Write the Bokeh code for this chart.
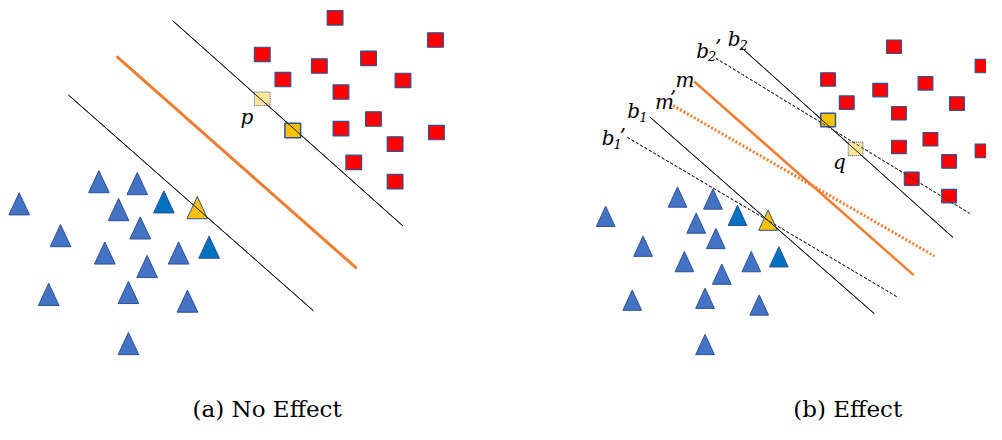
from bokeh.plotting import figure
from bokeh.models import Range1d, ColumnDataSource
from bokeh.core.properties import value
from bokeh.embed import file_html
from bokeh.resources import INLINE

# ---------------- data (reference-image coordinates) ----------------
# Panel (a) "No Effect"
a_red_x = [340, 442, 266, 374, 324, 287, 409, 346, 379, 346, 443, 401, 359, 401]
a_red_y = [18, 41, 56, 60, 68, 82, 83, 95, 123, 133, 137, 149, 168, 188]
a_sv_sq_x = [297]
a_sv_sq_y = [135]
a_ghost_x = [266]
a_ghost_y = [102]
a_tri_x = [19, 100, 139, 120, 166, 200, 61, 142, 106, 181, 212, 149, 49, 130, 190, 130]
a_tri_y = [211, 188, 190, 217, 209, 215, 244, 236, 262, 262, 256, 276, 305, 303, 312, 356]
a_tri_kind = ["b", "b", "b", "b", "d", "y", "b", "b", "b", "b", "d", "b", "b", "b", "b", "b"]
a_solid_x0 = [175, 69]
a_solid_y0 = [21, 98]
a_solid_x1 = [409, 318]
a_solid_y1 = [234, 322]
a_orange_x0 = [118]
a_orange_y0 = [58]
a_orange_x1 = [362]
a_orange_y1 = [278]

# Panel (b) "Effect"
b_red_x = [908, 998, 841, 894, 940, 860, 972, 913, 945, 913, 998, 964, 926, 964]
b_red_y = [48, 68, 82, 93, 86, 106, 107, 117, 144, 152, 156, 167, 185, 203]
b_sv_sq_x = [841]
b_sv_sq_y = [124]
b_ghost_x = [869]
b_ghost_y = [154]
b_tri_x = [615, 688, 724, 707, 749, 780, 653, 727, 695, 763, 791, 733, 642, 716, 771, 716]
b_tri_y = [224, 204, 206, 231, 223, 228, 255, 247, 271, 271, 266, 284, 311, 309, 316, 357]
b_tri_kind = ["b", "b", "b", "b", "d", "y", "b", "b", "b", "b", "d", "b", "b", "b", "b", "b"]
b_solid_x0 = [753, 660]
b_solid_y0 = [49, 121]
b_solid_x1 = [968, 888]
b_solid_y1 = [246, 325]
b_dash_x0 = [727, 637]
b_dash_y0 = [60, 142]
b_dash_x1 = [985, 912]
b_dash_y1 = [221, 308]
b_orange_x0 = [705]
b_orange_y0 = [84]
b_orange_x1 = [928]
b_orange_y1 = [285]
b_dot_x0 = [680]
b_dot_y0 = [107]
b_dot_x1 = [949]
b_dot_y1 = [265]

# Labels
main_txt = ["p", "q", "m", "m", "b", "b", "b", "b"]
main_x = [244, 846, 686, 665, 637, 611, 707, 739]
main_y = [121, 168, 83, 105, 115, 143, 52, 40]
sub_txt = ["1", "1", "2", "2"]
sub_x = [649, 623, 719, 751]
sub_y = [121, 149, 58, 46]
prime_txt = ["\u2019", "\u2019", "\u2019"]
prime_x = [680, 629, 726]
prime_y = [101, 141, 48]

captions = ["(a) No Effect", "(b) Effect"]
caption_x = [271, 861]
caption_y = [424, 424]

# ---------------- styles ----------------
BLUE = "#4472C4"
DARK = "#0070C0"
YELLOW = "#FFC000"
RED = "#FF0000"
EDGE = "#2F528F"
ORANGE = "#ED7D31"
GHOST = "#FFE699"
KIND_COLOR = {"b": BLUE, "d": DARK, "y": YELLOW}

p = figure(width=986, height=424, x_range=Range1d(0, 1002), y_range=Range1d(440, 0),
           min_border=0, toolbar_location=None, output_backend="svg",
           x_axis_location=None, y_axis_location=None)
p.outline_line_color = None
p.grid.visible = False
p.background_fill_color = "white"
p.border_fill_color = "white"


def tri_source(xs, ys, kinds, hw, hh):
    return ColumnDataSource(dict(
        xs=[[x - hw, x + hw, x] for x in xs],
        ys=[[y + hh, y + hh, y - hh] for y in ys],
        fill=[KIND_COLOR[k] for k in kinds],
    ))


# lines (drawn under markers)
p.segment(a_solid_x0, a_solid_y0, a_solid_x1, a_solid_y1, line_color="#1a1a1a", line_width=1)
p.segment(a_orange_x0, a_orange_y0, a_orange_x1, a_orange_y1, line_color=ORANGE, line_width=3)
p.segment(b_solid_x0, b_solid_y0, b_solid_x1, b_solid_y1, line_color="#1a1a1a", line_width=1)
p.segment(b_dash_x0, b_dash_y0, b_dash_x1, b_dash_y1, line_color="#333333", line_width=1,
          line_dash="3 2")
p.segment(b_orange_x0, b_orange_y0, b_orange_x1, b_orange_y1, line_color=ORANGE, line_width=2.5)
p.segment(b_dot_x0, b_dot_y0, b_dot_x1, b_dot_y1, line_color=ORANGE, line_width=3,
          line_dash="2 2")

# triangles
p.patches("xs", "ys", source=tri_source(a_tri_x, a_tri_y, a_tri_kind, 10.5, 11.5),
          fill_color="fill", line_color=EDGE, line_width=1)
p.patches("xs", "ys", source=tri_source(b_tri_x, b_tri_y, b_tri_kind, 9.5, 10.5),
          fill_color="fill", line_color=EDGE, line_width=1)

# squares
p.rect(a_red_x, a_red_y, width=16, height=15, fill_color=RED, line_color=EDGE, line_width=1.2)
p.rect(b_red_x, b_red_y, width=15, height=14, fill_color=RED, line_color=EDGE, line_width=1.2)
p.rect(a_ghost_x, a_ghost_y, width=16, height=14, fill_color=GHOST, line_color=EDGE,
       line_width=1, line_dash="1 1")
p.rect(b_ghost_x, b_ghost_y, width=15, height=14, fill_color=GHOST, line_color=EDGE,
       line_width=1, line_dash="1 1")
p.rect(a_sv_sq_x, a_sv_sq_y, width=16, height=15, fill_color=YELLOW, line_color=EDGE, line_width=1.5)
p.rect(b_sv_sq_x, b_sv_sq_y, width=15, height=14, fill_color=YELLOW, line_color=EDGE, line_width=1.5)

# re-draw lines over the support-vector markers, as in the reference
p.segment(a_solid_x0, a_solid_y0, a_solid_x1, a_solid_y1, line_color="#1a1a1a", line_width=1)
p.segment(b_solid_x0, b_solid_y0, b_solid_x1, b_solid_y1, line_color="#1a1a1a", line_width=1)
p.segment(b_dash_x0, b_dash_y0, b_dash_x1, b_dash_y1, line_color="#333333", line_width=1,
          line_dash="3 2")

# labels
FONT = value("DejaVu Serif")
p.text(main_x, main_y, text=main_txt, text_font=FONT, text_font_style="italic",
       text_font_size="20px", text_color="black", text_baseline="alphabetic", text_align="left")
p.text(sub_x, sub_y, text=sub_txt, text_font=FONT, text_font_style="italic",
       text_font_size="13px", text_color="black", text_baseline="alphabetic", text_align="left")
p.text(prime_x, prime_y, text=prime_txt, text_font=FONT, text_font_style="italic",
       text_font_size="20px", text_color="black", text_baseline="alphabetic", text_align="left")
p.text(caption_x, caption_y, text=captions, text_font=FONT, text_font_size="23px",
       text_color="black", text_baseline="alphabetic", text_align="center")

open("out.html", "w").write(file_html(p, INLINE))
